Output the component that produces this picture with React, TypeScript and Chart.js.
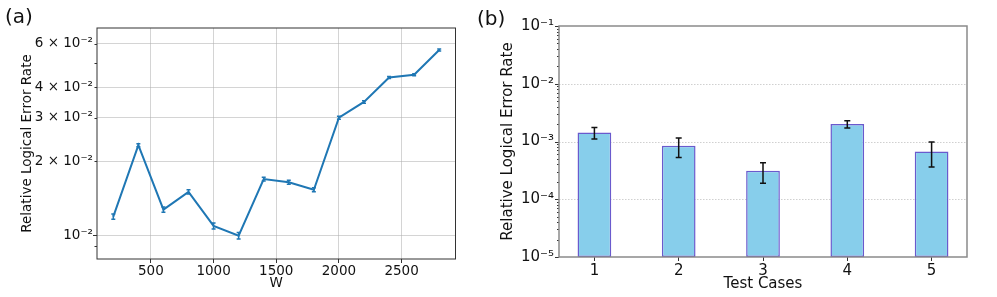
import { useEffect, useRef } from 'react';
import { Chart, registerables } from 'chart.js';
Chart.register(...registerables);

// ---------- Panel (a) data ----------
const widths = [200, 400, 600, 800, 1000, 1200, 1400, 1600, 1800, 2000, 2200, 2400, 2600, 2800];
const errorRates = [0.0119, 0.0232, 0.0127, 0.0150, 0.0109, 0.00995, 0.0169, 0.0164, 0.0153, 0.0300, 0.0348, 0.0437, 0.0449, 0.0566];
const errorRateErr = [0.0003, 0.0003, 0.0003, 0.0003, 0.0003, 0.0003, 0.0003, 0.0003, 0.0003, 0.0004, 0.0004, 0.0004, 0.0004, 0.0005];
const leftXTicks = [500, 1000, 1500, 2000, 2500];
const leftYTicks = [0.009, 0.01, 0.02, 0.03, 0.04, 0.05, 0.06];
const leftYLabels = ['', '10⁻²', '2 × 10⁻²', '3 × 10⁻²', '4 × 10⁻²', '', '6 × 10⁻²'];

// ---------- Panel (b) data ----------
const testCases = [1, 2, 3, 4, 5];
const caseRates = [1.43e-3, 8.4e-4, 3.1e-4, 2.0e-3, 6.7e-4];
const caseErr = [3.2e-4, 3.1e-4, 1.2e-4, 2.9e-4, 3.1e-4];
const rightYTicks = [1e-5, 1e-4, 1e-3, 1e-2, 1e-1];
const rightYLabels = ['10⁻⁵', '10⁻⁴', '10⁻³', '10⁻²', '10⁻¹'];
const rightYGrid = [1e-4, 1e-3, 1e-2];
const rightYMinor = [2, 3, 4, 5, 6, 7, 8, 9];

const FAMILY = "'DejaVu Sans', sans-serif";
const TEXT = '#111';

function errorBarPlugin(id: string, color: string, lw: number, cap: number) {
  return {
    id,
    afterDatasetsDraw(chart: any) {
      const ctx = chart.ctx;
      const y = chart.scales.y;
      chart.data.datasets.forEach((ds: any, di: number) => {
        const errs = ds.errors;
        if (!errs) return;
        const meta = chart.getDatasetMeta(di);
        meta.data.forEach((el: any, i: number) => {
          const v = ds.data[i].y;
          const e = errs[i];
          const top = y.getPixelForValue(v + e);
          const bot = y.getPixelForValue(v - e);
          ctx.save();
          ctx.strokeStyle = color;
          ctx.lineWidth = lw;
          ctx.beginPath();
          ctx.moveTo(el.x, top);
          ctx.lineTo(el.x, bot);
          ctx.moveTo(el.x - cap, top);
          ctx.lineTo(el.x + cap, top);
          ctx.moveTo(el.x - cap, bot);
          ctx.lineTo(el.x + cap, bot);
          ctx.stroke();
          ctx.restore();
        });
      });
    },
  };
}

function framePlugin(id: string, color: string, lw: number, label: string, lx: number, ly: number) {
  return {
    id,
    afterDraw(chart: any) {
      const { ctx, chartArea: a } = chart;
      ctx.save();
      ctx.strokeStyle = color;
      ctx.lineWidth = lw;
      ctx.strokeRect(a.left, a.top, a.right - a.left, a.bottom - a.top);
      ctx.fillStyle = TEXT;
      ctx.font = `20px ${FAMILY}`;
      ctx.textBaseline = 'alphabetic';
      ctx.textAlign = 'left';
      ctx.fillText(label, lx, ly);
      ctx.restore();
    },
  };
}

const leftTickPlugin = {
  id: 'leftYTicks',
  afterDraw(chart: any) {
    const { ctx, chartArea: a } = chart;
    const y = chart.scales.y;
    ctx.save();
    ctx.strokeStyle = '#333';
    ctx.lineWidth = 1;
    ctx.beginPath();
    leftYTicks.forEach((v) => {
      const py = Math.round(y.getPixelForValue(v)) + 0.5;
      const len = v === 0.01 ? 4 : 2.5;
      ctx.moveTo(a.left - len, py);
      ctx.lineTo(a.left, py);
    });
    ctx.stroke();
    ctx.restore();
  },
};

const rightGridPlugin = {
  id: 'rightGrid',
  beforeDatasetsDraw(chart: any) {
    const { ctx, chartArea: a } = chart;
    const y = chart.scales.y;
    ctx.save();
    ctx.strokeStyle = 'rgba(170,170,170,0.55)';
    ctx.lineWidth = 1;
    ctx.setLineDash([1.5, 1.5]);
    ctx.beginPath();
    rightYGrid.forEach((v) => {
      const py = Math.round(y.getPixelForValue(v)) + 0.5;
      ctx.moveTo(a.left, py);
      ctx.lineTo(a.right, py);
    });
    ctx.stroke();
    ctx.restore();
  },
  afterDraw(chart: any) {
    const { ctx, chartArea: a } = chart;
    const y = chart.scales.y;
    ctx.save();
    ctx.strokeStyle = '#333';
    ctx.lineWidth = 1;
    ctx.beginPath();
    rightYTicks.forEach((v) => {
      const py = Math.round(y.getPixelForValue(v)) + 0.5;
      ctx.moveTo(a.left - 4, py);
      ctx.lineTo(a.left, py);
    });
    rightYTicks.slice(0, 4).forEach((d) => {
      rightYMinor.forEach((k) => {
        const py = Math.round(y.getPixelForValue(k * d)) + 0.5;
        ctx.moveTo(a.left - 2, py);
        ctx.lineTo(a.left, py);
      });
    });
    ctx.stroke();
    ctx.restore();
  },
};

export default function App() {
  const leftRef = useRef<HTMLCanvasElement>(null);
  const rightRef = useRef<HTMLCanvasElement>(null);

  useEffect(() => {
    const gridColor = 'rgba(176,176,176,0.55)';
    const left = new Chart(leftRef.current as HTMLCanvasElement, {
      type: 'line',
      data: {
        datasets: [
          {
            data: widths.map((w, i) => ({ x: w, y: errorRates[i] })),
            errors: errorRateErr,
            borderColor: '#1f77b4',
            backgroundColor: '#1f77b4',
            borderWidth: 2,
            pointRadius: 0,
            tension: 0,
            fill: false,
          } as any,
        ],
      },
      options: {
        responsive: false,
        animation: false,
        devicePixelRatio: 1,
        layout: { padding: { top: 28, right: 14.5, left: 0, bottom: 0 } },
        plugins: { legend: { display: false }, tooltip: { enabled: false } },
        scales: {
          x: {
            type: 'linear',
            min: 70,
            max: 2930,
            afterBuildTicks: (s: any) => {
              s.ticks = leftXTicks.map((v) => ({ value: v }));
            },
            afterFit: (s: any) => {
              s.height = 38;
            },
            ticks: {
              autoSkip: false,
              maxRotation: 0,
              padding: 0,
              color: TEXT,
              font: { family: FAMILY, size: 13.5 },
              callback: (v: any) => String(v),
            },
            grid: { color: gridColor, lineWidth: 1, tickLength: 4, tickColor: '#333' },
            border: { display: false },
            title: {
              display: true,
              text: 'W',
              color: TEXT,
              font: { family: FAMILY, size: 13.5 },
              padding: { top: 0, bottom: 5 },
            },
          },
          y: {
            type: 'logarithmic',
            min: 0.008,
            max: 0.0695,
            afterBuildTicks: (s: any) => {
              s.ticks = leftYTicks.map((v) => ({ value: v }));
            },
            afterFit: (s: any) => {
              s.width = 97;
            },
            ticks: {
              autoSkip: false,
              padding: 4,
              color: TEXT,
              font: { family: FAMILY, size: 13.5 },
              callback: (_v: any, i: number) => leftYLabels[i],
            },
            grid: {
              drawTicks: false,
              lineWidth: 1,
              color: (c: any) => (c.tick && leftYLabels[leftYTicks.indexOf(c.tick.value)] ? gridColor : 'transparent'),
            },
            border: { display: false },
            title: {
              display: true,
              text: 'Relative Logical Error Rate',
              color: TEXT,
              font: { family: FAMILY, size: 13.5 },
              padding: { top: 19.5, bottom: 0 },
            },
          },
        },
      },
      plugins: [
        errorBarPlugin('errA', '#1f77b4', 1.5, 2),
        leftTickPlugin,
        framePlugin('frameA', '#333', 1, '(a)', 5, 23),
      ],
    } as any);

    const right = new Chart(rightRef.current as HTMLCanvasElement, {
      type: 'bar',
      data: {
        datasets: [
          {
            data: testCases.map((c, i) => ({ x: c, y: caseRates[i] })),
            errors: caseErr,
            backgroundColor: '#87ceeb',
            borderColor: '#6a5acd',
            borderWidth: 1.5,
            borderSkipped: false,
            barPercentage: 0.4,
            categoryPercentage: 1,
          } as any,
        ],
      },
      options: {
        responsive: false,
        animation: false,
        devicePixelRatio: 1,
        layout: { padding: { top: 26, right: 30, left: 0, bottom: 0 } },
        plugins: { legend: { display: false }, tooltip: { enabled: false } },
        scales: {
          x: {
            type: 'linear',
            min: 0.58,
            max: 5.42,
            offset: false,
            afterBuildTicks: (s: any) => {
              s.ticks = testCases.map((v) => ({ value: v }));
            },
            afterFit: (s: any) => {
              s.height = 40;
            },
            ticks: {
              autoSkip: false,
              maxRotation: 0,
              padding: 1,
              color: TEXT,
              font: { family: FAMILY, size: 15 },
              callback: (v: any) => String(v),
            },
            grid: { offset: false, drawOnChartArea: false, tickLength: 4, tickColor: '#333', lineWidth: 1 },
            border: { display: false },
            title: {
              display: true,
              text: 'Test Cases',
              color: TEXT,
              font: { family: FAMILY, size: 15 },
              padding: { top: 0, bottom: 4 },
            },
          },
          y: {
            type: 'logarithmic',
            min: 1e-5,
            max: 1e-1,
            afterBuildTicks: (s: any) => {
              s.ticks = rightYTicks.map((v) => ({ value: v }));
            },
            afterFit: (s: any) => {
              s.width = 89;
            },
            ticks: {
              autoSkip: false,
              padding: 5,
              color: TEXT,
              font: { family: FAMILY, size: 15 },
              callback: (_v: any, i: number) => rightYLabels[i],
            },
            grid: { display: false, drawTicks: false },
            border: { display: false },
            title: {
              display: true,
              text: 'Relative Logical Error Rate',
              color: TEXT,
              font: { family: FAMILY, size: 15 },
              padding: { top: 29, bottom: 0 },
            },
          },
        },
      },
      plugins: [
        rightGridPlugin,
        errorBarPlugin('errB', '#111', 1.5, 3),
        framePlugin('frameB', '#8a8a8a', 1.5, '(b)', 7, 25),
      ],
    } as any);

    return () => {
      left.destroy();
      right.destroy();
    };
  }, []);

  return (
    <div style={{ position: 'fixed', left: 0, top: 0, width: 997, height: 297, background: '#fff' }}>
      <canvas ref={leftRef} width={470} height={297} style={{ position: 'absolute', left: 0, top: 0, width: 470, height: 297 }} />
      <canvas ref={rightRef} width={527} height={297} style={{ position: 'absolute', left: 470, top: 0, width: 527, height: 297 }} />
    </div>
  );
}
